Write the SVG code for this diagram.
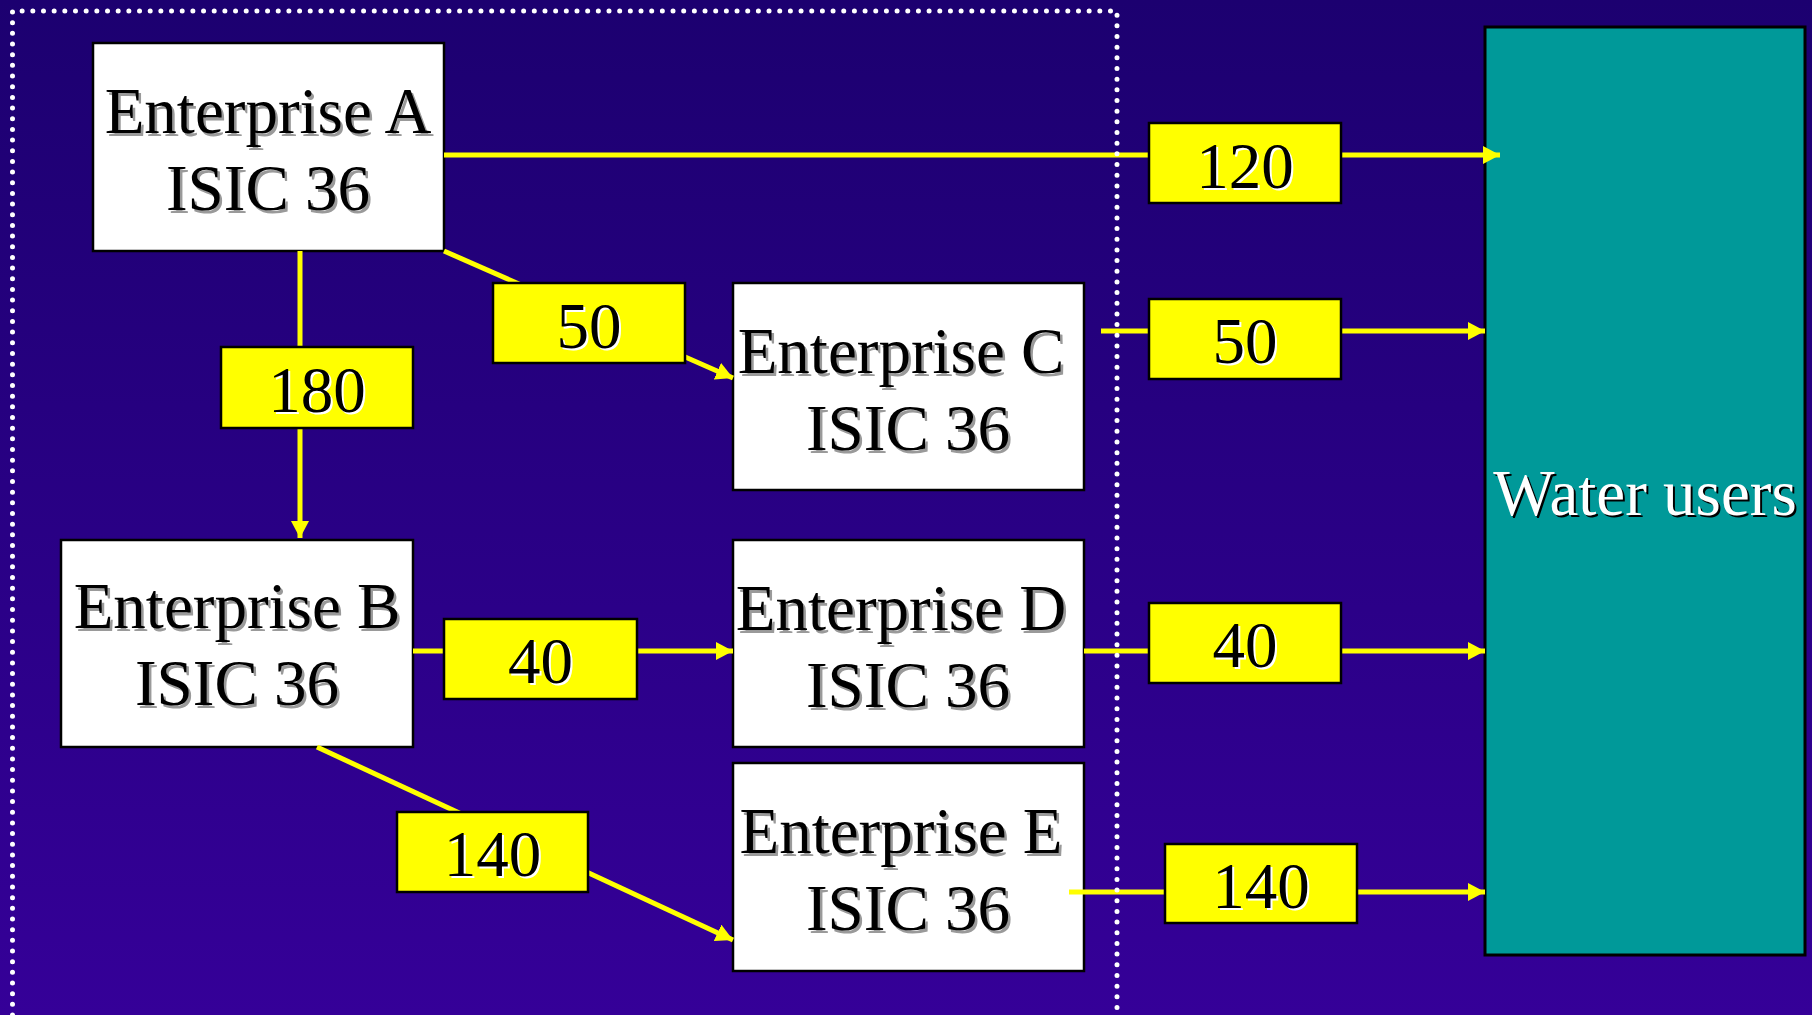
<svg xmlns="http://www.w3.org/2000/svg" width="1812" height="1015" viewBox="0 0 1812 1015">
<defs>
<linearGradient id="bg" x1="0" y1="0" x2="0" y2="1">
<stop offset="0" stop-color="#1c0070"/>
<stop offset="1" stop-color="#350098"/>
</linearGradient>
<marker id="ah" markerUnits="userSpaceOnUse" markerWidth="19" markerHeight="19" refX="17" refY="9" orient="auto">
<path d="M0,0 L17,9 L0,18 z" fill="#ffff00"/>
</marker>
<style>
.node{fill:#ffffff;stroke:#000000;stroke-width:2.5}
.lab{fill:#ffff00;stroke:#000000;stroke-width:2.5}
.wu{fill:#009999;stroke:#000000;stroke-width:3}
text{font-family:"Liberation Serif","Times New Roman",serif;font-size:65px;text-anchor:middle}
.t{fill:#000000}
.ts{fill:#9a9a9a}
.ns{fill:#ffffff}
.wt{fill:#ffffff}
.ws{fill:#000000}
.con{stroke:#ffff00;stroke-width:5;fill:none}
.arr{marker-end:url(#ah)}
.dots{fill:none;stroke:#ffffff;stroke-width:5;stroke-linecap:round;stroke-dasharray:0 10.67}
</style>
</defs>
<rect x="0" y="0" width="1812" height="1015" fill="url(#bg)"/>

<g id="water-users">
<rect class="wu" x="1485" y="27" width="320" height="928"/>
<text class="ws" x="1647" y="517">Water users</text>
<text class="wt" x="1645" y="515">Water users</text>
</g>

<g id="enterprise-a">
<rect class="node" x="93" y="43" width="351" height="208"/>
<text class="ts" x="270.5" y="135.5">Enterprise A</text>
<text class="t" x="268" y="133">Enterprise A</text>
<text class="ts" x="270.5" y="212.5">ISIC 36</text>
<text class="t" x="268" y="210">ISIC 36</text>
</g>

<g id="enterprise-b">
<rect class="node" x="61" y="540" width="352" height="207"/>
<text class="ts" x="239.5" y="630.5">Enterprise B</text>
<text class="t" x="237" y="628">Enterprise B</text>
<text class="ts" x="239.5" y="707.5">ISIC 36</text>
<text class="t" x="237" y="705">ISIC 36</text>
</g>

<g id="enterprise-c">
<rect class="node" x="733" y="283" width="351" height="207"/>
<text class="ts" x="903.5" y="375.5">Enterprise C</text>
<text class="t" x="901" y="373">Enterprise C</text>
<text class="ts" x="910.5" y="452.5">ISIC 36</text>
<text class="t" x="908" y="450">ISIC 36</text>
</g>

<g id="enterprise-d">
<rect class="node" x="733" y="540" width="351" height="207"/>
<text class="ts" x="903.5" y="632.5">Enterprise D</text>
<text class="t" x="901" y="630">Enterprise D</text>
<text class="ts" x="910.5" y="709.5">ISIC 36</text>
<text class="t" x="908" y="707">ISIC 36</text>
</g>

<g id="enterprise-e">
<rect class="node" x="733" y="763" width="351" height="208"/>
<text class="ts" x="903.5" y="855.5">Enterprise E</text>
<text class="t" x="901" y="853">Enterprise E</text>
<text class="ts" x="910.5" y="932.5">ISIC 36</text>
<text class="t" x="908" y="930">ISIC 36</text>
</g>

<g id="connectors">
<line class="con arr" x1="444" y1="155" x2="1500" y2="155"/>
<line class="con arr" x1="300" y1="251" x2="300" y2="538"/>
<line class="con arr" x1="444" y1="251" x2="733" y2="378"/>
<line class="con arr" x1="413" y1="651" x2="733" y2="651"/>
<line class="con arr" x1="317" y1="747" x2="733" y2="940"/>
<line class="con arr" x1="1101" y1="331" x2="1485" y2="331"/>
<line class="con arr" x1="1084" y1="651" x2="1485" y2="651"/>
<line class="con arr" x1="1069" y1="892" x2="1485" y2="892"/>
</g>

<path id="boundary" class="dots" d="M12.5,1015 V11 H1117 V1015"/>

<g id="label-180">
<rect class="lab" x="221" y="347" width="192" height="81"/>
<text class="ns" x="319" y="414">180</text>
<text class="t" x="317" y="412">180</text>
</g>
<g id="label-50a">
<rect class="lab" x="493" y="283" width="192" height="80"/>
<text class="ns" x="591" y="350">50</text>
<text class="t" x="589" y="348">50</text>
</g>
<g id="label-40a">
<rect class="lab" x="444" y="619" width="193" height="80"/>
<text class="ns" x="542.5" y="685">40</text>
<text class="t" x="540.5" y="683">40</text>
</g>
<g id="label-140a">
<rect class="lab" x="397" y="812" width="191" height="80"/>
<text class="ns" x="494.5" y="878">140</text>
<text class="t" x="492.5" y="876">140</text>
</g>
<g id="label-120">
<rect class="lab" x="1149" y="123" width="192" height="80"/>
<text class="ns" x="1247" y="190">120</text>
<text class="t" x="1245" y="188">120</text>
</g>
<g id="label-50b">
<rect class="lab" x="1149" y="299" width="192" height="80"/>
<text class="ns" x="1247" y="365">50</text>
<text class="t" x="1245" y="363">50</text>
</g>
<g id="label-40b">
<rect class="lab" x="1149" y="603" width="192" height="80"/>
<text class="ns" x="1247" y="669">40</text>
<text class="t" x="1245" y="667">40</text>
</g>
<g id="label-140b">
<rect class="lab" x="1165" y="844" width="192" height="79"/>
<text class="ns" x="1263" y="910">140</text>
<text class="t" x="1261" y="908">140</text>
</g>
</svg>
